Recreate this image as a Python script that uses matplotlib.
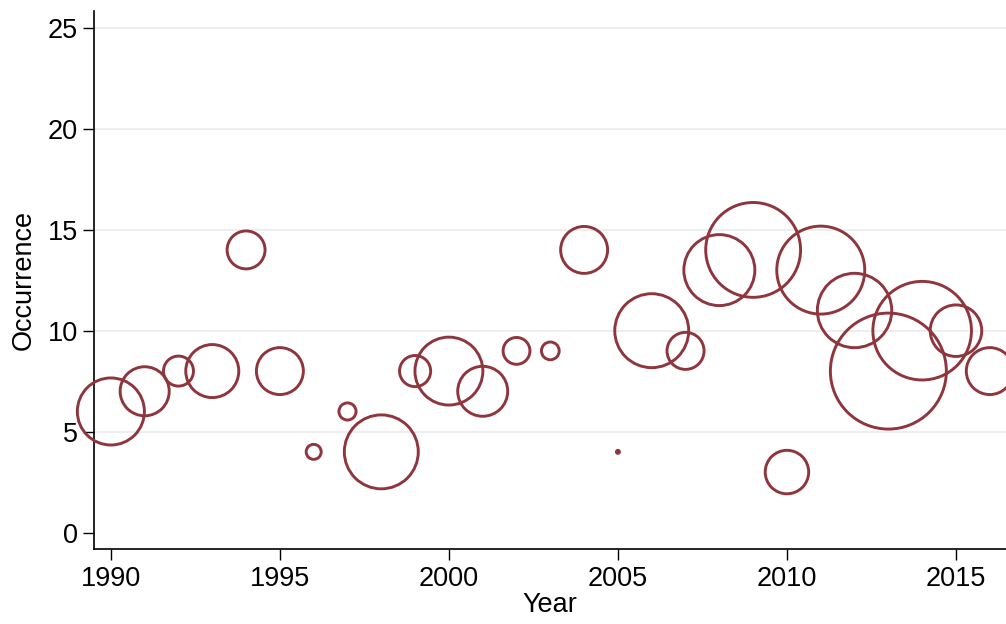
import matplotlib
matplotlib.use("Agg")
import matplotlib.pyplot as plt
import numpy as np

years = [1990, 1991, 1992, 1993, 1994, 1995, 1996, 1997, 1998, 1999, 2000,
         2001, 2002, 2003, 2004, 2005, 2006, 2007, 2008, 2009, 2010, 2011,
         2012, 2013, 2014, 2015, 2016]
occurrence = [6, 7, 8, 8, 14, 8, 4, 6, 4, 8, 8,
              7, 9, 9, 14, 4, 10, 9, 13, 14, 3, 13,
              11, 8, 10, 10, 8]
# bubble weights (area proportional)
weight = [20.0, 10.7, 4.0, 12.5, 6.4, 9.8, 1.0, 1.3, 24.3, 4.3, 20.5,
          11.1, 3.2, 1.4, 9.8, 0.04, 24.3, 6.1, 22.4, 40.0, 8.4, 34.4,
          24.6, 59.8, 43.2, 11.8, 9.8]
yticks = [0, 5, 10, 15, 20, 25]
xticks = [1990, 1995, 2000, 2005, 2010, 2015]

plt.rcParams['font.family'] = ['Liberation Sans', 'DejaVu Sans']
color = '#8F353D'

fig = plt.figure(figsize=(10.06, 6.24), dpi=100)
ax = fig.add_axes([94.3 / 1006, 1 - 549 / 624, 1 - 94.3 / 1006, (549 - 11) / 624])

sizes = np.array(weight) * 116.6
ax.scatter(years, occurrence, s=sizes, facecolors='none', edgecolors=color,
           linewidths=2.1, zorder=3, clip_on=False)

ax.set_xlim(1989.51, 2016.48)
ax.set_ylim(-0.81, 25.83)
ax.set_xticks(xticks)
ax.set_yticks(yticks)
ax.set_xticklabels([str(t) for t in xticks])
ax.set_yticklabels([str(t) for t in yticks])
for y in yticks[1:]:
    ax.axhline(y, color='#EEEEEE', lw=1.5, zorder=1)

for s in ['top', 'right']:
    ax.spines[s].set_visible(False)
for s in ['left', 'bottom']:
    ax.spines[s].set_linewidth(1.2)
    ax.spines[s].set_color('black')
ax.tick_params(axis='both', length=8, width=1.0, labelsize=19.5, pad=4, colors='black')
ax.set_xlabel('Year', fontsize=19.5, labelpad=0)
ax.set_ylabel('Occurrence', fontsize=19.5, labelpad=8)

fig.savefig('out.png', dpi=100)
